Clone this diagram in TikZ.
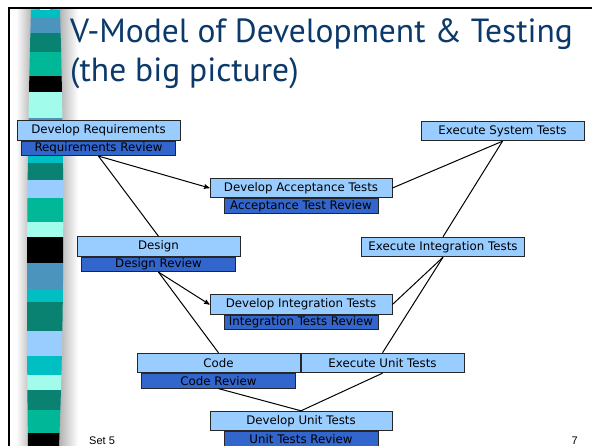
\documentclass[tikz,border=0pt]{standalone}
\usepackage{fontspec}
\setmainfont{DejaVu Sans}
\newfontfamily\titlefont{PT Sans}
\newfontfamily\footfont{Liberation Sans}
\usetikzlibrary{arrows}
\usetikzlibrary{positioning}
\definecolor{stepblue}{HTML}{99CCFF}
\definecolor{reviewblue}{HTML}{3366CC}
\definecolor{titlenavy}{HTML}{0B3A6A}
\definecolor{stripcyan}{HTML}{00BFC2}
\definecolor{stripsteel}{HTML}{4A94BE}
\definecolor{stripteal}{HTML}{0A8272}
\definecolor{stripgreen}{HTML}{00B898}
\definecolor{stripaqua}{HTML}{A2FCEC}
\definecolor{striplight}{HTML}{99CCFF}

\begin{document}
\begin{tikzpicture}[x=1pt, y=-1pt,
  task/.style={draw=black!85, line width=.9pt, fill=stepblue, minimum width=163pt,
    minimum height=19.5pt, inner sep=0pt, font=\fontsize{11.8}{13}\selectfont},
  widetask/.style={task, minimum width=182pt},
  review/.style={draw=black!85, line width=.9pt, fill=reviewblue, minimum width=154pt,
    minimum height=14.5pt, inner sep=0pt, font=\fontsize{11.8}{13}\selectfont},
  link/.style={black, line width=1pt}]
\useasboundingbox (0,0) rectangle (592,446);
\fill[white] (0,0) rectangle (592,446);

\shade[left color=white, right color=black!45] (16,10) rectangle (40,446);
\shade[left color=black!45, right color=white] (50,10) rectangle (78,446);
\fill[black!45] (40,10) rectangle (50,446);
\begin{scope}
\clip (31,10) .. controls (27,150) and (26,300) .. (28,446) -- (59,446) .. controls (65,300) and (64,150) .. (60,10) -- cycle;
\foreach \ya/\yb/\c in {10/17/stripcyan, 17/33/stripsteel, 33/52/stripteal, 52/76/stripgreen,
  76/92/black, 92/118/stripaqua, 118/155/stripsteel, 155/163/stripcyan, 163/180/stripteal,
  180/198/striplight, 198/222/stripgreen, 222/237/stripaqua, 237/263/black, 263/289/stripsteel,
  289/302/stripcyan, 302/331/stripteal, 331/356/striplight, 356/375/stripcyan, 375/390/stripaqua,
  390/410/stripteal, 410/433/stripgreen, 433/446/black} {
 \fill[\c] (20,\ya) rectangle (72,\yb);
}
\end{scope}
\draw[black, line width=2pt] (9,446) -- (9,8) -- (592,8);

\node[anchor=base west, inner sep=0pt, text=titlenavy, font=\titlefont\fontsize{33.5}{40}\selectfont] (title) at (70,43) {V-Model of Development \& Testing};
\node[anchor=base west, inner sep=0pt, text=titlenavy, font=\titlefont\fontsize{33.5}{40}\selectfont] (subtitle) at (70,82) {(the big picture)};

\node[task] (req) at (98.5,130.5) {Develop Requirements};
\node[review, below=0pt of req] (reqrev) {Requirements Review};
\node[widetask] (acc) at (301,188) {Develop Acceptance Tests};
\node[review, below=0pt of acc] (accrev) {Acceptance Test Review};
\node[task] (sys) at (502.5,131) {Execute System Tests};
\node[task] (design) at (158.5,246.5) {Design};
\node[review, below=0pt of design] (desrev) {Design Review};
\node[task] (exint) at (443,247) {Execute Integration Tests};
\node[widetask] (integ) at (301,304.5) {Develop Integration Tests};
\node[review, below=0pt of integ] (integrev) {Integration Tests Review};
\node[task] (code) at (218.5,363) {Code};
\node[review, below=0pt of code] (coderev) {Code Review};
\node[task] (exunit) at (382.5,363) {Execute Unit Tests};
\node[widetask] (unit) at (301,421) {Develop Unit Tests};
\node[review, below=0pt of unit] (unitrev) {Unit Tests Review};

\draw[link] (reqrev.south) -- (design.north);
\draw[link, ->, >=stealth'] (reqrev.south) -- (acc.west);
\draw[link] (acc.east) -- (sys.south);
\draw[link] (sys.south) -- (exint.north);
\draw[link, ->, >=stealth'] (desrev.south) -- (integ.west);
\draw[link] (desrev.south) -- (code.north);
\draw[link] (integ.east) -- (exint.south);
\draw[link] (exint.south) -- (exunit.north);
\draw[link] (coderev.south) -- (unit.north);
\draw[link] (exunit.south) -- (unit.north);

\node[anchor=base west, inner sep=0pt, font=\footfont\fontsize{11}{12}\selectfont] (setno) at (89,444) {Set 5};
\node[anchor=base east, inner sep=0pt, font=\footfont\fontsize{11}{12}\selectfont] (pageno) at (578,444) {7};
\end{tikzpicture}
\end{document}
